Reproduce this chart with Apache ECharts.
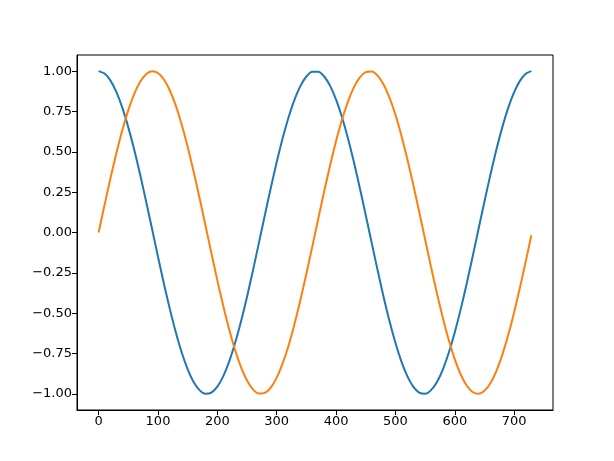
<!DOCTYPE html>
<html>
<head>
<meta charset="utf-8">
<script src="https://cdn.jsdelivr.net/npm/echarts@6/dist/echarts.min.js"></script>
<style>html,body{margin:0;padding:0;background:#fff}#c{width:614px;height:461px}</style>
</head>
<body>
<div id="c"></div>
<script>
const xValues = [0,10,20,30,40,50,60,70,80,90,100,110,120,130,140,150,160,170,180,190,200,210,220,230,240,250,260,270,280,290,300,310,320,330,340,350,360,
  370,380,390,400,410,420,430,440,450,460,470,480,490,500,510,520,530,540,550,560,570,580,590,600,610,620,630,640,650,660,670,680,690,700,710,720,729];
const blueValues = [1,0.9852,0.9413,0.8696,0.7719,0.6516,0.5126,0.3577,0.1925,0.0215,-0.1501,-0.3172,-0.4749,-0.6182,-0.7440,-0.8475,-0.9259,-0.9769,-0.9991,-0.9917,-0.9550,-0.8900,-0.7986,-0.6836,-0.5488,-0.3976,-0.2345,-0.0645,0.1074,0.2761,0.4367,0.5843,0.7143,0.8239,0.9088,0.9668,0.9963,
  0.9963,0.9668,0.9088,0.8239,0.7143,0.5843,0.4367,0.2761,0.1074,-0.0645,-0.2345,-0.3976,-0.5488,-0.6836,-0.7986,-0.8900,-0.9550,-0.9917,-0.9991,-0.9769,-0.9259,-0.8475,-0.7440,-0.6182,-0.4749,-0.3172,-0.1501,0.0215,0.1925,0.3577,0.5126,0.6516,0.7719,0.8696,0.9413,0.9852,0.9999];
const orangeValues = [0,0.1713,0.3375,0.4937,0.6357,0.7586,0.8587,0.9338,0.9813,0.9998,0.9887,0.9484,0.8800,0.7860,0.6683,0.5308,0.3777,0.2135,0.0430,-0.1287,-0.2967,-0.4559,-0.6017,-0.7297,-0.8360,-0.9176,-0.9721,-0.9979,-0.9942,-0.9611,-0.8996,-0.8115,-0.6998,-0.5667,-0.4172,-0.2553,-0.0860,
  0.0860,0.2554,0.4172,0.5667,0.6998,0.8115,0.8996,0.9611,0.9942,0.9979,0.9721,0.9176,0.8360,0.7297,0.6017,0.4559,0.2967,0.1287,-0.0430,-0.2135,-0.3777,-0.5308,-0.6683,-0.7860,-0.8800,-0.9484,-0.9887,-0.9998,-0.9813,-0.9338,-0.8587,-0.7586,-0.6357,-0.4937,-0.3375,-0.1713,-0.0172];
const xTicks = [0,100,200,300,400,500,600,700];
const yTicks = [-1,-0.75,-0.5,-0.25,0,0.25,0.5,0.75,1];

const chart = echarts.init(document.getElementById('c'), null, {renderer:'canvas'});
const font = {fontFamily:'DejaVu Sans', fontSize:13, color:'#000'};
chart.setOption({
  animation:false,
  backgroundColor:'#fff',
  grid:{left:77, right:61, top:55, bottom:51, show:true, borderColor:'#000', borderWidth:1, backgroundColor:'transparent'},
  xAxis:{
    type:'value', min:-36.45, max:765.45,
    axisLine:{show:true, onZero:false, lineStyle:{color:'#000', width:1}},
    axisTick:{show:true, length:5, lineStyle:{color:'#000', width:1}, customValues:xTicks},
    axisLabel:Object.assign({margin:5, customValues:xTicks, formatter:v=>String(v)}, font),
    splitLine:{show:false}
  },
  yAxis:{
    type:'value', min:-1.1, max:1.1,
    axisLine:{show:true, onZero:false, lineStyle:{color:'#000', width:1}},
    axisTick:{show:true, length:5, lineStyle:{color:'#000', width:1}, customValues:yTicks},
    axisLabel:Object.assign({margin:5, customValues:yTicks, formatter:v=>{const s=Math.abs(v).toFixed(2);return v<0?'\u2212'+s:s;}}, font),
    splitLine:{show:false}
  },
  series:[
    {type:'line', data:xValues.map((x,i)=>[x,blueValues[i]]), smooth:0.25, showSymbol:false, lineStyle:{color:'#1f77b4', width:2}, itemStyle:{color:'#1f77b4'}},
    {type:'line', data:xValues.map((x,i)=>[x,orangeValues[i]]), smooth:0.25, showSymbol:false, lineStyle:{color:'#ff7f0e', width:2}, itemStyle:{color:'#ff7f0e'}}
  ]
});
</script>
</body>
</html>
